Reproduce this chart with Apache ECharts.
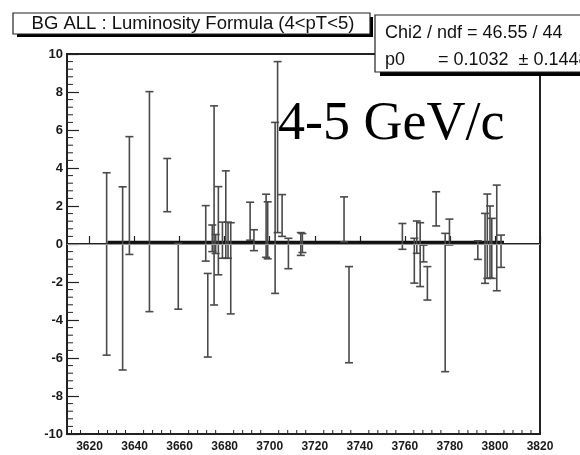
<!DOCTYPE html>
<html><head><meta charset="utf-8">
<script src="https://cdn.jsdelivr.net/npm/echarts@6/dist/echarts.min.js"></script>
<style>html,body{margin:0;padding:0;background:#fff}#c{width:580px;height:455px}</style>
</head><body><div id="c"></div>
<script>
// ---- data ----
const xValues = [3627.6, 3634.7, 3637.7, 3646.6, 3654.5, 3659.4, 3671.6, 3672.5, 3675.3, 3674.5,
                 3676.0, 3677.2, 3679.0, 3680.5, 3681.5, 3682.7, 3691.3, 3693.0, 3698.4, 3699.1,
                 3702.4, 3703.5, 3705.5, 3708.3, 3713.8, 3714.5, 3733.0, 3735.2, 3758.9, 3764.2,
                 3765.3, 3766.8, 3768.3, 3770.0, 3773.9, 3777.9, 3779.8, 3792.4, 3795.6, 3796.6,
                 3797.8, 3798.6, 3800.8, 3802.7];
const yValues = [-1.05, -1.81, 2.55, 2.23, 3.10, -1.70, 0.56, -3.75, 2.03, 0.30,
                 0.00, 0.70, 0.20, 1.55, 0.20, -1.28, 1.20, 0.20, 0.96, 0.72,
                 1.90, 5.10, 1.50, -0.50, 0.00, 0.05, 1.30, -3.72, 0.40, -0.88,
                 0.36, -0.56, -0.50, -2.07, 1.85, -3.08, 0.63, -0.32, -0.23, 0.41,
                 0.10, -0.23, 0.32, -0.38];
const yErrors = [4.80, 4.82, 3.10, 5.79, 1.40, 1.73, 1.46, 2.20, 5.24, 0.70,
                 0.50, 2.32, 0.95, 2.30, 0.95, 2.40, 1.00, 0.55, 1.66, 1.50,
                 4.50, 4.50, 1.10, 0.80, 0.60, 0.50, 1.18, 2.53, 0.68, 1.18,
                 0.85, 1.68, 0.44, 0.88, 0.90, 3.64, 0.68, 0.49, 1.84, 2.22,
                 1.90, 1.58, 2.78, 0.85];
const xTickLabels = [3620, 3640, 3660, 3680, 3700, 3720, 3740, 3760, 3780, 3800, 3820];
const yTickLabels = [-10, -8, -6, -4, -2, 0, 2, 4, 6, 8, 10];
const fitP0 = 0.1032;
const fitRange = [3628, 3804];
const titleText = 'BG ALL : Luminosity Formula (4<pT<5)';
const statsLine1 = 'Chi2 / ndf = 46.55 / 44';
const statsName2 = 'p0';
const statsValue2 = '= 0.1032  \u00b1 0.1448';
const annotation = '4-5 GeV/c';

// ---- build ----
const xMin = 3610, xMax = 3820, yMin = -10, yMax = 10;
const minorX = [];
for (let v = 3612; v < xMax; v += 4) { if ((v - 3620) % 20 !== 0) minorX.push(v); }
const minorY = [];
for (let k = 0; k <= 50; k++) { const v = yMin + k * 0.4; if (k % 5 !== 0) minorY.push(+v.toFixed(2)); }
const barData = xValues.map((x, i) => [x, yValues[i] - yErrors[i], yValues[i] + yErrors[i]]);

const tickStyle = {stroke: '#222', lineWidth: 1};
const chart = echarts.init(document.getElementById('c'), null, {renderer: 'canvas'});
const xLabelFont = {fontFamily: 'Liberation Sans', fontSize: 12, fontWeight: 'bold', color: '#1a1a1a'};
const yLabelFont = {fontFamily: 'Liberation Sans', fontSize: 13, fontWeight: 'bold', color: '#1a1a1a'};
chart.setOption({
  animation: false,
  backgroundColor: '#fff',
  grid: {left: 67, right: 40, top: 54, bottom: 21, show: true, borderColor: '#222', borderWidth: 2, backgroundColor: 'transparent'},
  xAxis: {type: 'value', min: xMin, max: xMax, position: 'bottom',
     axisLine: {show: true, lineStyle: {color: '#222', width: 2}},
     axisTick: {show: true, inside: true, length: 8, customValues: xTickLabels, lineStyle: {color: '#222', width: 1.2}},
     axisLabel: Object.assign({customValues: xTickLabels, margin: 7, formatter: v => String(v)}, xLabelFont),
     splitLine: {show: false}},
  yAxis: {type: 'value', min: yMin, max: yMax, interval: 2,
    axisLine: {show: true, lineStyle: {color: '#222', width: 2}},
    axisTick: {show: true, inside: true, length: 12, lineStyle: {color: '#222', width: 1.2}},
    axisLabel: Object.assign({margin: 4, formatter: v => String(v)}, yLabelFont),
    splitLine: {show: false}},
  series: [
    {type: 'line', data: [[fitRange[0], fitP0], [fitRange[1], fitP0]], symbol: 'none',
     lineStyle: {color: '#111', width: 2.5}, z: 3,
     markLine: {silent: true, symbol: 'none', label: {show: false},
       lineStyle: {color: '#999', width: 1, type: 'solid'}, data: [{yAxis: 0}]}},
    {type: 'custom', data: barData, z: 4,
     renderItem: function (params, api) {
       const x = api.value(0), lo = api.value(1), hi = api.value(2);
       const pLo = api.coord([x, lo]), pHi = api.coord([x, hi]);
       const hw = 4;
       const st = {stroke: '#4a4a4a', lineWidth: 1.6};
       return {type: 'group', children: [
         {type: 'line', shape: {x1: pLo[0], y1: pLo[1], x2: pHi[0], y2: pHi[1]}, style: st},
         {type: 'line', shape: {x1: pLo[0] - hw, y1: pLo[1], x2: pLo[0] + hw, y2: pLo[1]}, style: st},
         {type: 'line', shape: {x1: pHi[0] - hw, y1: pHi[1], x2: pHi[0] + hw, y2: pHi[1]}, style: st}
       ]};
     }},
    // minor ticks on the x axis
    {type: 'custom', data: minorX.map(v => [v, yMin]), z: 5, silent: true,
     renderItem: function (params, api) {
       const p = api.coord([api.value(0), yMin]);
       return {type: 'line', shape: {x1: p[0], y1: p[1], x2: p[0], y2: p[1] - 4}, style: tickStyle};
     }},
    // minor ticks on the y axis
    {type: 'custom', data: minorY.map(v => [xMin, v]), z: 5, silent: true,
     renderItem: function (params, api) {
       const p = api.coord([xMin, api.value(1)]);
       return {type: 'line', shape: {x1: p[0], y1: p[1], x2: p[0] + 6, y2: p[1]}, style: tickStyle};
     }}
  ],
  graphic: [
    {type: 'rect', shape: {x: 17, y: 17, width: 356, height: 20}, style: {fill: '#000'}, z: 100},
    {type: 'rect', shape: {x: 13, y: 13, width: 357, height: 21}, style: {fill: '#fff', stroke: '#222', lineWidth: 1.2}, z: 101},
    {type: 'text', x: 193, y: 24, z: 102, style: {text: titleText, fontFamily: 'Liberation Sans', fontSize: 18.5, fill: '#111', align: 'center', verticalAlign: 'middle'}},
    {type: 'rect', shape: {x: 380, y: 20, width: 210, height: 56}, style: {fill: '#000'}, z: 100},
    {type: 'rect', shape: {x: 375, y: 15, width: 215, height: 57}, style: {fill: '#fff', stroke: '#222', lineWidth: 1.2}, z: 101},
    {type: 'text', x: 385, y: 33, z: 102, style: {text: statsLine1, fontFamily: 'Liberation Sans', fontSize: 18, fill: '#111', verticalAlign: 'middle'}},
    {type: 'text', x: 385, y: 60, z: 102, style: {text: statsName2, fontFamily: 'Liberation Sans', fontSize: 18, fill: '#111', verticalAlign: 'middle'}},
    {type: 'text', x: 438, y: 60, z: 102, style: {text: statsValue2, fontFamily: 'Liberation Sans', fontSize: 18, fill: '#111', verticalAlign: 'middle'}},
    {type: 'text', x: 278, y: 152, z: 50, style: {text: annotation, fontFamily: 'Liberation Serif', fontSize: 54, fill: '#000', verticalAlign: 'bottom'}}
  ]
});
</script></body></html>
